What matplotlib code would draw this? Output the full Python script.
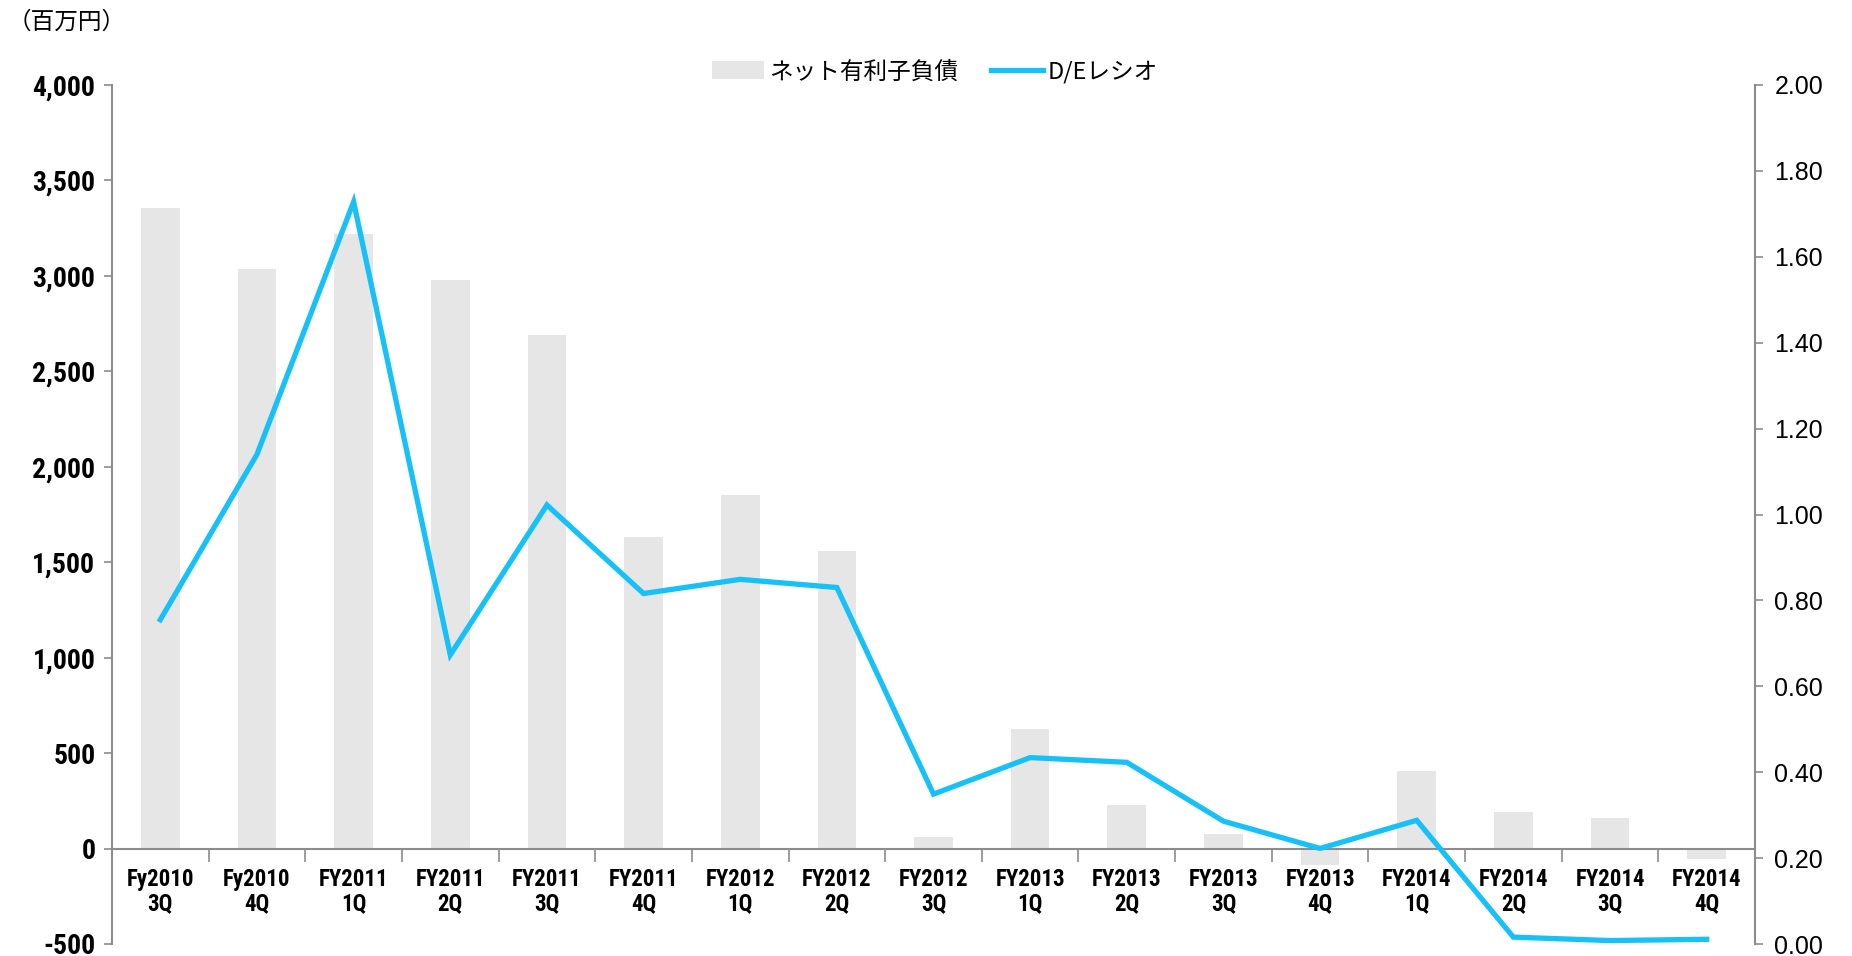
import matplotlib
matplotlib.use("Agg")
import matplotlib.pyplot as plt
from matplotlib import font_manager
from matplotlib.ticker import FuncFormatter, FixedLocator, NullFormatter
from matplotlib.patches import Patch
from matplotlib.lines import Line2D

categories = ["Fy2010\n3Q", "Fy2010\n4Q", "FY2011\n1Q", "FY2011\n2Q", "FY2011\n3Q",
              "FY2011\n4Q", "FY2012\n1Q", "FY2012\n2Q", "FY2012\n3Q", "FY2013\n1Q",
              "FY2013\n2Q", "FY2013\n3Q", "FY2013\n4Q", "FY2014\n1Q", "FY2014\n2Q",
              "FY2014\n3Q", "FY2014\n4Q"]
net_debt = [3355, 3035, 3220, 2980, 2688, 1632, 1854, 1557, 62, 624,
            229, 74, -88, 408, 192, 161, -55]
de_ratio = [0.755, 1.140, 1.728, 0.673, 1.022, 0.816, 0.849, 0.830, 0.349, 0.434,
            0.423, 0.286, 0.2225, 0.288, 0.016, 0.008, 0.011]
left_ticks = [-500, 0, 500, 1000, 1500, 2000, 2500, 3000, 3500, 4000]
right_ticks = [0.0, 0.2, 0.4, 0.6, 0.8, 1.0, 1.2, 1.4, 1.6, 1.8, 2.0]
legend_labels = ["ネット有利子負債", "D/Eレシオ"]
unit_label = "（百万円）"


def pick_narrow_bold():
    prefs = ["Liberation Sans Narrow", "Arial Narrow", "Roboto Condensed",
             "Open Sans Condensed", "Barlow Semi Condensed", "Asap Condensed"]
    fonts = font_manager.fontManager.ttflist
    for name in prefs:
        for f in fonts:
            if f.name == name and f.style == "normal" and int(f.weight) == 700:
                return font_manager.FontProperties(fname=f.fname)
    return font_manager.FontProperties(family="Liberation Sans", weight="bold")


narrow_fp = pick_narrow_bold()
regular = "Liberation Sans"
cjk = ["Noto Sans CJK JP", "DejaVu Sans"]

bar_color = "#E6E6E6"
line_color = "#18C0F8"
spine_color = "#8C8C8C"

fig = plt.figure(figsize=(18.52, 9.56), dpi=100)
ax = fig.add_axes([112 / 1852, 12 / 956, (1755 - 112) / 1852, (944 - 85) / 956])
x = list(range(len(categories)))
ax.bar(x, net_debt, width=0.4, color=bar_color, zorder=2)
ax.set_xlim(-0.5, len(categories) - 0.5)
ax.set_ylim(-500, 4000)
ax.set_yticks(left_ticks)
ax.yaxis.set_major_formatter(FuncFormatter(lambda v, p: f"{int(v):,}"))
for lab in ax.get_yticklabels():
    lab.set_fontproperties(narrow_fp)
    lab.set_fontsize(20)
ax.tick_params(axis="y", direction="out", length=6, width=1.2, color=spine_color, pad=6)

# x axis at zero
ax.spines["bottom"].set_position(("data", 0))
ax.spines["bottom"].set_color(spine_color)
ax.spines["bottom"].set_linewidth(1.5)
ax.spines["left"].set_color(spine_color)
ax.spines["left"].set_linewidth(1.5)
ax.spines["top"].set_visible(False)
ax.spines["right"].set_visible(False)
ax.xaxis.set_major_locator(FixedLocator([i + 0.5 for i in range(len(categories))]))
ax.xaxis.set_major_formatter(NullFormatter())
ax.xaxis.set_minor_locator(FixedLocator(x))
ax.set_xticklabels(categories, minor=True)
ax.tick_params(axis="x", which="major", direction="out", length=9, width=1.2, color=spine_color)
ax.tick_params(axis="x", which="minor", length=0, pad=14)
for lab in ax.get_xticklabels(minor=True):
    lab.set_fontproperties(narrow_fp)
    lab.set_fontsize(16.5)
    lab.set_linespacing(1.08)

ax2 = ax.twinx()
ax2.plot(x, de_ratio, color=line_color, linewidth=3.8, solid_joinstyle="miter", zorder=3)
ax2.set_ylim(0, 2.0)
ax2.set_yticks(right_ticks)
ax2.yaxis.set_major_formatter(FuncFormatter(lambda v, p: f"{v:.2f}"))
for lab in ax2.get_yticklabels():
    lab.set_fontfamily(regular)
    lab.set_fontsize(18)
ax2.tick_params(axis="y", direction="out", length=6, width=1.2, color=spine_color, pad=8)
for s in ["top", "left", "bottom"]:
    ax2.spines[s].set_visible(False)
ax2.spines["right"].set_color(spine_color)
ax2.spines["right"].set_linewidth(1.5)

handles = [Patch(facecolor=bar_color, edgecolor="none"),
           Line2D([0], [0], color=line_color, linewidth=3.8)]
fig.legend(handles, legend_labels, loc="center", bbox_to_anchor=(0.505, 1 - 72 / 956),
           ncol=2, frameon=False, prop={"family": cjk, "size": 17},
           handlelength=2.2, handleheight=0.8, handletextpad=0.2, columnspacing=1.4)

fig.text(8 / 1852, 1 - 22 / 956, unit_label, family=cjk, fontsize=17, va="center", ha="left")

fig.savefig("out.png", dpi=100)
